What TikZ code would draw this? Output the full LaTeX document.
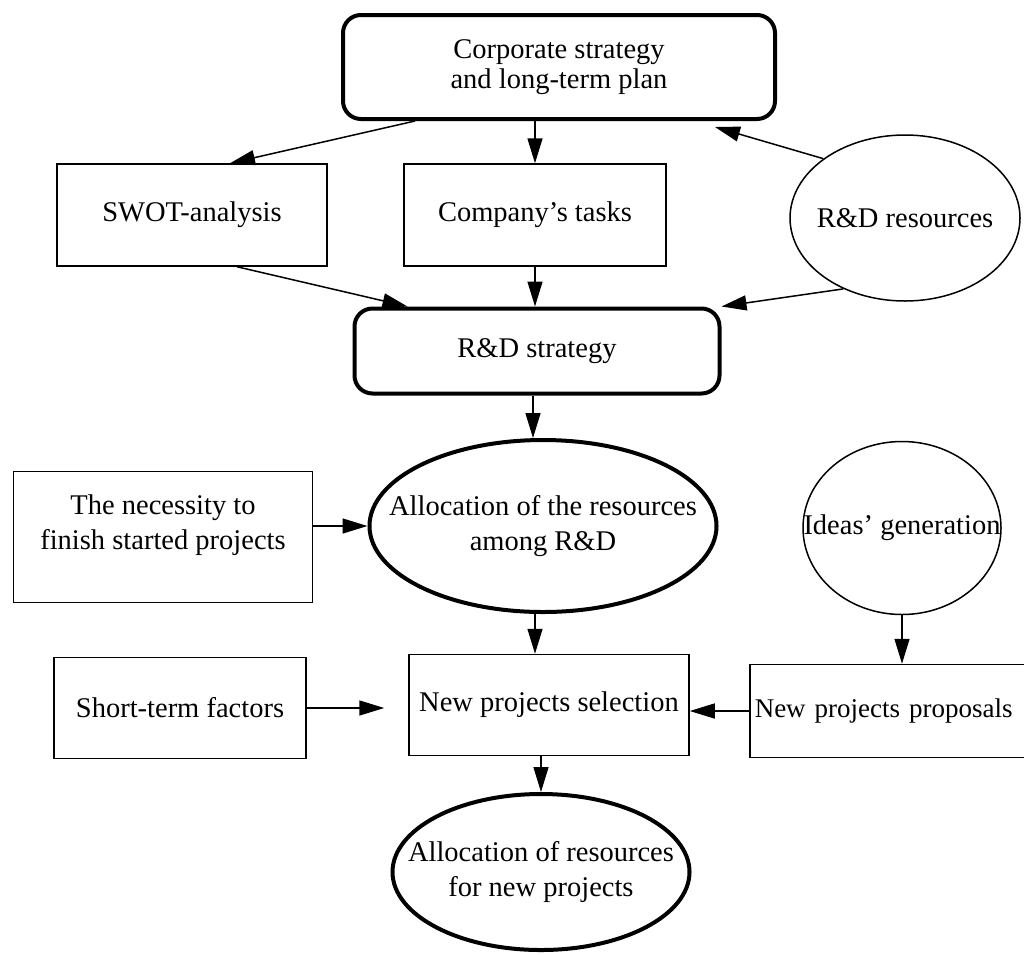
\documentclass[tikz,border=0pt]{standalone}
\usepackage{fontspec}
\setmainfont{Liberation Serif}
\usetikzlibrary{shapes.geometric,arrows.meta,calc}
\begin{document}
\begin{tikzpicture}[x=1pt,y=-1pt,
  every node/.style={font=\fontsize{28.5}{35}\selectfont, align=center, inner sep=0pt},
  box/.style={draw, line width=1.5pt, rectangle},
  rbox/.style={draw, line width=4pt, rectangle, rounded corners=18pt},
  oval/.style={draw, ellipse, line width=1.5pt, inner xsep=-150pt, inner ysep=-60pt},
  toval/.style={draw, ellipse, line width=4pt, inner xsep=-150pt, inner ysep=-60pt},
  arr/.style={line width=1.5pt, -{Triangle[length=25pt,width=15pt]}}]
\useasboundingbox (0,0) rectangle (1024,954);

\node[rbox, minimum width=432pt, minimum height=104pt, font=\fontsize{28.5}{30}\selectfont] (corp) at (559,67) {Corporate strategy\\and long-term plan};
\node[box, minimum width=270pt, minimum height=102pt] (swot) at (192,215) {SWOT-analysis};
\node[box, minimum width=262pt, minimum height=102pt] (tasks) at (535,215) {Company’s tasks};
\node[oval, minimum width=230pt, minimum height=166pt] (res) at (905,218) {R\&D resources};
\node[rbox, minimum width=365pt, minimum height=85pt] (strat) at (537,351) {R\&D strategy};
\node[toval, minimum width=347pt, minimum height=172pt] (alloc) at (543,526) {Allocation of the resources\\among R\&D};
\node[box, minimum width=299pt, minimum height=131pt, text depth=30pt] (nec) at (163,537) {The necessity to\\finish started projects};
\node[oval, minimum width=198pt, minimum height=173pt] (ideas) at (902,528) {Ideas’ generation};
\node[box, minimum width=252pt, minimum height=101pt] (short) at (180,708) {Short-term factors};
\node[box, minimum width=280pt, minimum height=101pt] (sel) at (549,705) {New projects selection};
\node[box, anchor=west, minimum height=93pt, text width=290pt, align=left, inner xsep=5pt, font=\fontsize{27}{33}\selectfont] (prop) at (749,711) {New projects proposals};
\node[toval, minimum width=297pt, minimum height=156pt] (fin) at (541,872) {Allocation of resources\\for new projects};

\draw[arr] ([xshift=-144pt]corp.south) -- ([xshift=38pt]swot.north);
\draw[arr] (corp.south -| tasks.north) -- (tasks.north);
\draw[arr] (res.144) -- ([xshift=-62pt,yshift=-6pt]corp.south east);
\draw[arr] ([xshift=45pt]swot.south) -- ([xshift=55pt]strat.north west);
\draw[arr] (tasks.south) -- (tasks.south |- strat.north);
\draw[arr] (res.229) -- (strat.north east);
\draw[arr] ([xshift=-4pt]strat.south) -- ([xshift=-10pt]alloc.north);
\draw[arr] (nec.east |- alloc.west) -- (alloc.west);
\draw[arr] ([xshift=-8pt]alloc.south) -- ($(sel.north)+(-14,0)$);
\draw[arr] (short.east) -- ($(sel.west |- short.east)+(-24,0)$);
\draw[arr] (prop.west) -- (sel.east |- prop.west);
\draw[arr] (ideas.south) -- (ideas.south |- prop.north);
\draw[arr] (sel.south -| fin.north) -- (fin.north);
\end{tikzpicture}
\end{document}
